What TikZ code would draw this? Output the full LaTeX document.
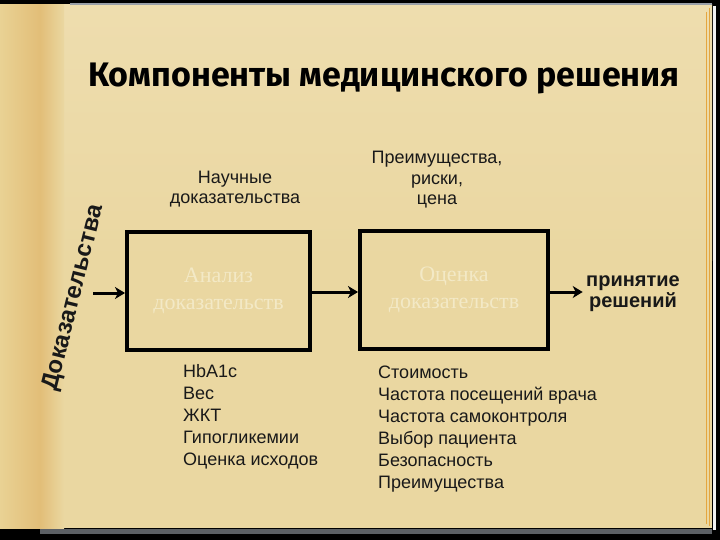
\documentclass[tikz,border=0pt]{standalone}
\usepackage{fontspec}
\setmainfont{Liberation Sans}
\newfontfamily\titlefont{Fira Sans}
\newfontfamily\boxfont{Liberation Serif}
\usetikzlibrary{arrows.meta, positioning}
\definecolor{PageTan}{HTML}{EAD7A1}
\definecolor{PageLight}{HTML}{EEDDAE}
\definecolor{SpineGold}{HTML}{E2BE78}
\definecolor{SpineLight}{HTML}{E9D294}
\definecolor{BoxInk}{HTML}{F3E9C6}
\definecolor{EdgeOrange}{HTML}{E4A640}
\definecolor{EdgeGrey}{HTML}{9AA0A8}

\begin{document}
\begin{tikzpicture}[
    x=1pt, y=-1pt,
    >=Stealth,
    procbox/.style={
        draw=black,
        line width=4pt,
        minimum height=118pt,
        align=center,
        text=BoxInk,
        font=\boxfont\fontsize{22}{27}\selectfont
    },
    flow/.style={
        ->,
        draw=black,
        line width=3pt,
        >={Stealth[length=10pt,width=12pt,inset=3pt]}
    },
    note/.style={
        align=center,
        text=black!90,
        font=\fontsize{18}{20.5}\selectfont
    },
    itemlist/.style={
        align=left,
        anchor=north west,
        text=black!90,
        inner sep=0pt,
        font=\fontsize{18}{22}\selectfont
    }
]
\useasboundingbox (0,0) rectangle (720,540);

% Page
\fill[black] (0,0) rectangle (720,540);
\fill[PageTan] (0,5) rectangle (712,528);
\shade[top color=PageLight, bottom color=PageTan] (60,5) rectangle (712,260);
\shade[left color=SpineLight, right color=SpineGold] (0,5) rectangle (40,528);
\shade[left color=SpineGold, right color=PageTan] (40,5) rectangle (64,528);
\draw[EdgeGrey, line width=2pt] (70,4) -- (712,4);
\draw[EdgeGrey!60!black, line width=5pt] (40,531) -- (712,531);
\draw[EdgeOrange, line width=0.8pt] (706,12) -- (706,524);
\draw[EdgeOrange, line width=0.8pt] (709,8) -- (709,526);
\draw[white!85!EdgeGrey, line width=3pt] (714,6) -- (714,530);

% Title
\node[font=\titlefont\bfseries\fontsize{34}{36}\selectfont, text=black] (title) at (384,78) {Компоненты медицинского решения};

% Boxes
\node[procbox, minimum width=183pt] (analysis) at (218.5,291) {Анализ\\доказательств};
\node[procbox, minimum width=188pt] (assess) at (454,290) {Оценка\\доказательств};

% Labels above the boxes
\node[note] (evidence) at (235,189) {Научные\\доказательства};
\node[note] (factors) at (437,180) {Преимущества,\\риски,\\цена};
\node[note, font=\bfseries\fontsize{20}{21}\selectfont] (decision) at (633,294) {принятие\\решений};

% Side text
\node[font=\bfseries\fontsize{24}{26}\selectfont, text=black!90, rotate=76] (proof) at (74,298) {Доказательства};
\coordinate (start) at (93,293);

% Arrows
\draw[flow] (start) -- (start -| analysis.west);
\draw[flow] (analysis.east |- 0,292) -- (assess.west |- 0,292);
\draw[flow] (assess.east |- 0,292) -- (decision.west |- 0,292);

% Lists
\node[itemlist] (outcomes) at (183,364) {HbA1c\\Вес\\ЖКТ\\Гипогликемии\\Оценка исходов};
\node[itemlist] (costs) at (378,366) {Стоимость\\Частота посещений врача\\Частота самоконтроля\\Выбор пациента\\Безопасность\\Преимущества};

\end{tikzpicture}
\end{document}
